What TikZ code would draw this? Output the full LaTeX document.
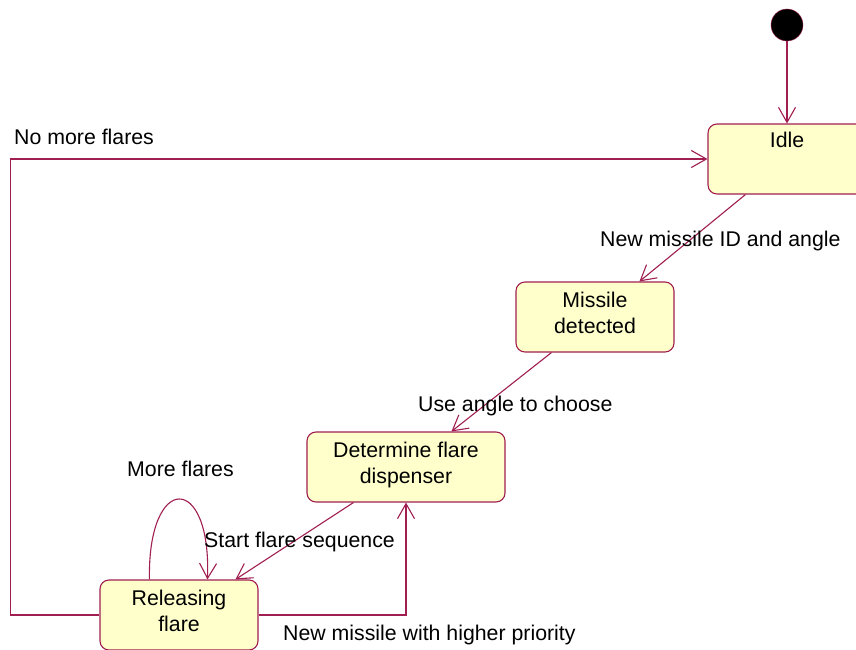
\documentclass[tikz,border=0pt]{standalone}
\usepackage{fontspec}
\setmainfont{Liberation Sans}
\usetikzlibrary{arrows.meta,calc}
\definecolor{edgec}{RGB}{160,30,80}
\definecolor{statefill}{RGB}{255,255,204}
\begin{document}
\begin{tikzpicture}[x=1pt,y=-1pt,
  every node/.style={font=\fontsize{21.3}{26}\selectfont},
  statebox/.style={draw=edgec, fill=statefill, line width=1.1pt, rounded corners=9pt,
    minimum height=70pt, align=center, inner sep=0pt},
  twoline/.style={text depth=8pt},
  trans/.style={draw=edgec, line width=1.1pt, -{Straight Barb[length=15pt,width=17pt]}},
  lbl/.style={anchor=base west, inner sep=0pt}]
\useasboundingbox (0,0) rectangle (856,650);
\clip (0,0) rectangle (856,650);

% initial state
\node[circle, fill=black, draw=edgec, minimum size=32pt, inner sep=0pt] (init) at (787,25) {};

% states
\node[statebox, minimum width=158pt, text height=15pt, text depth=39pt, inner ysep=8pt] (idle) at (787,159) {Idle};
\node[statebox, twoline, minimum width=158pt] (missile) at (595,317) {Missile\\detected};
\node[statebox, twoline, minimum width=198pt] (determine) at (406,467) {Determine flare\\dispenser};
\node[statebox, twoline, minimum width=158pt] (releasing) at (179,615) {Releasing\\flare};

% transitions
\draw[trans] (init) -- (idle.north);
\draw[trans] ($(idle.south west)+(38,0)$) -- ($(missile.north west)+(124,0)$);
\draw[trans] ($(missile.south west)+(36,0)$) -- ($(determine.north west)+(145,0)$);
\draw[trans] ($(determine.south west)+(47,0)$) -- ($(releasing.north west)+(136,0)$);
\draw[trans] (releasing.east) -| (determine.south);
\draw[trans] (releasing.west) -- ++(-89,0) |- (idle.west);
\draw[trans] ($(releasing.north west)+(50,0)$) .. controls +(-2,-107) and +(4,-107) .. ($(releasing.north west)+(108,0)$);

% labels
\node[lbl] (lNoMore) at (14,144) {No more flares};
\node[lbl] (lNewID) at (600,246) {New missile ID and angle};
\node[lbl] (lUse) at (418,411) {Use angle to choose};
\node[lbl] (lStart) at (204,547) {Start flare sequence};
\node[lbl] (lMore) at (127,476) {More flares};
\node[lbl] (lHigher) at (283,640) {New missile with higher priority};
\end{tikzpicture}
\end{document}
